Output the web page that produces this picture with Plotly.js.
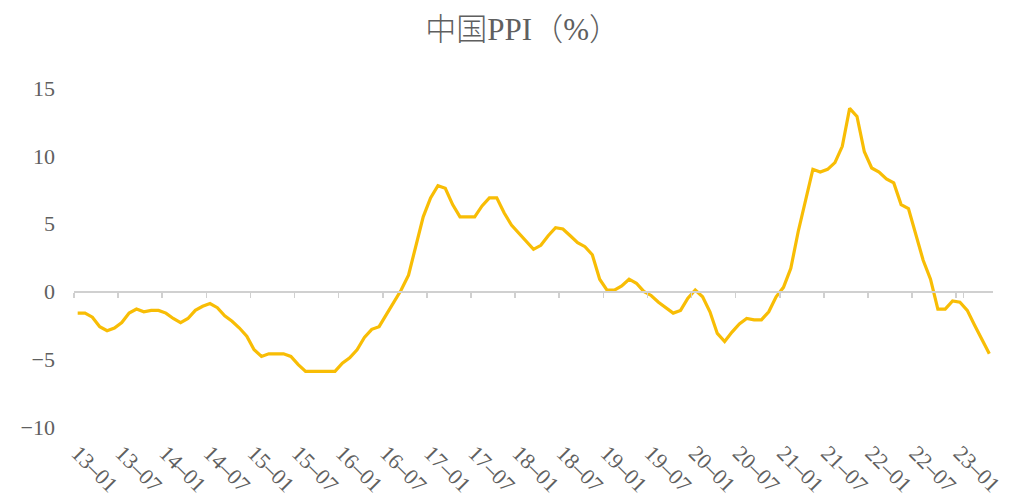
<!DOCTYPE html>
<html><head><meta charset="utf-8">
<script src="https://cdn.plot.ly/plotly-3.0.1.min.js"></script>
<style>html,body{margin:0;padding:0;background:#fff}#chart{width:1009px;height:497px}</style>
</head><body><div id="chart"></div>
<script>
const months = [
 "13-01","13-02","13-03","13-04","13-05","13-06","13-07","13-08","13-09","13-10","13-11","13-12",
 "14-01","14-02","14-03","14-04","14-05","14-06","14-07","14-08","14-09","14-10","14-11","14-12",
 "15-01","15-02","15-03","15-04","15-05","15-06","15-07","15-08","15-09","15-10","15-11","15-12",
 "16-01","16-02","16-03","16-04","16-05","16-06","16-07","16-08","16-09","16-10","16-11","16-12",
 "17-01","17-02","17-03","17-04","17-05","17-06","17-07","17-08","17-09","17-10","17-11","17-12",
 "18-01","18-02","18-03","18-04","18-05","18-06","18-07","18-08","18-09","18-10","18-11","18-12",
 "19-01","19-02","19-03","19-04","19-05","19-06","19-07","19-08","19-09","19-10","19-11","19-12",
 "20-01","20-02","20-03","20-04","20-05","20-06","20-07","20-08","20-09","20-10","20-11","20-12",
 "21-01","21-02","21-03","21-04","21-05","21-06","21-07","21-08","21-09","21-10","21-11","21-12",
 "22-01","22-02","22-03","22-04","22-05","22-06","22-07","22-08","22-09","22-10","22-11","22-12",
 "23-01","23-02","23-03","23-04","23-05"
];
const ppi = [
 -1.6,-1.6,-1.9,-2.6,-2.9,-2.7,-2.3,-1.6,-1.3,-1.5,-1.4,-1.4,
 -1.6,-2.0,-2.3,-2.0,-1.4,-1.1,-0.9,-1.2,-1.8,-2.2,-2.7,-3.3,
 -4.3,-4.8,-4.6,-4.6,-4.6,-4.8,-5.4,-5.9,-5.9,-5.9,-5.9,-5.9,
 -5.3,-4.9,-4.3,-3.4,-2.8,-2.6,-1.7,-0.8,0.1,1.2,3.3,5.5,
 6.9,7.8,7.6,6.4,5.5,5.5,5.5,6.3,6.9,6.9,5.8,4.9,
 4.3,3.7,3.1,3.4,4.1,4.7,4.6,4.1,3.6,3.3,2.7,0.9,
 0.1,0.1,0.4,0.9,0.6,0.0,-0.3,-0.8,-1.2,-1.6,-1.4,-0.5,
 0.1,-0.4,-1.5,-3.1,-3.7,-3.0,-2.4,-2.0,-2.1,-2.1,-1.5,-0.4,
 0.3,1.7,4.4,6.8,9.0,8.8,9.0,9.5,10.7,13.5,12.9,10.3,
 9.1,8.8,8.3,8.0,6.4,6.1,4.2,2.3,0.9,-1.3,-1.3,-0.7,
 -0.8,-1.4,-2.5,-3.6,-4.6
];
const tickLabels = months.filter((m, i) => i % 6 === 0);
const tickText = tickLabels.map(m => m.replace("-", "\u2013"));
const yTicks = [-10, -5, 0, 5, 10, 15];
const yTickText = ["\u221210", "\u22125", "0", "5", "10", "15"];

const lineColor = "#F8BD05";
const txtColor = "#5f5f5f";
const font = "Liberation Serif, 'Noto Sans CJK SC', serif";

const traces = [
  { x: months, y: ppi, xaxis: "x2", yaxis: "y", type: "scatter", mode: "lines",
    line: { color: "rgba(0,0,0,0)", width: 0 }, hoverinfo: "skip", showlegend: false },
  { x: months, y: ppi, xaxis: "x", yaxis: "y", type: "scatter", mode: "lines",
    line: { color: lineColor, width: 3.2, shape: "linear" }, name: "PPI", showlegend: false }
];

const layout = {
  width: 1009, height: 497,
  paper_bgcolor: "#fff", plot_bgcolor: "#fff",
  margin: { l: 74, r: 16, t: 88, b: 70 },
  title: { text: "中国PPI（%）", font: { family: font, size: 31, color: txtColor, weight: 300 },
           xref: "container", x: 0.518, xanchor: "center",
           yref: "container", y: 1 - 29 / 497, yanchor: "middle" },
  xaxis: {
    type: "category", range: [-0.5, months.length - 0.5], anchor: "y",
    tickmode: "array", tickvals: tickLabels, ticktext: tickText,
    tickangle: 45, showline: false, showgrid: false, zeroline: false, ticks: "",
    tickfont: { family: font, size: 22, color: txtColor }, automargin: false,
    ticklabelstandoff: 8
  },
  xaxis2: {
    type: "category", overlaying: "x", matches: "x", anchor: "free", position: 0.4,
    range: [-0.5, months.length - 0.5],
    tickmode: "array", tickvals: tickLabels, tickson: "boundaries",
    showticklabels: false, ticks: "outside", ticklen: 5, tickwidth: 1.5, tickcolor: "#d0d0d0",
    showline: true, linecolor: "#d0d0d0", linewidth: 1.8, showgrid: false, zeroline: false
  },
  yaxis: {
    range: [-10, 15], tickmode: "array", tickvals: yTicks, ticktext: yTickText,
    showgrid: false, zeroline: false, showline: false, ticks: "",
    tickfont: { family: font, size: 22, color: txtColor }, automargin: false,
    ticklabelstandoff: 18
  },
  showlegend: false
};

Plotly.newPlot("chart", traces, layout, { displayModeBar: false, staticPlot: true });
</script>
</body></html>
